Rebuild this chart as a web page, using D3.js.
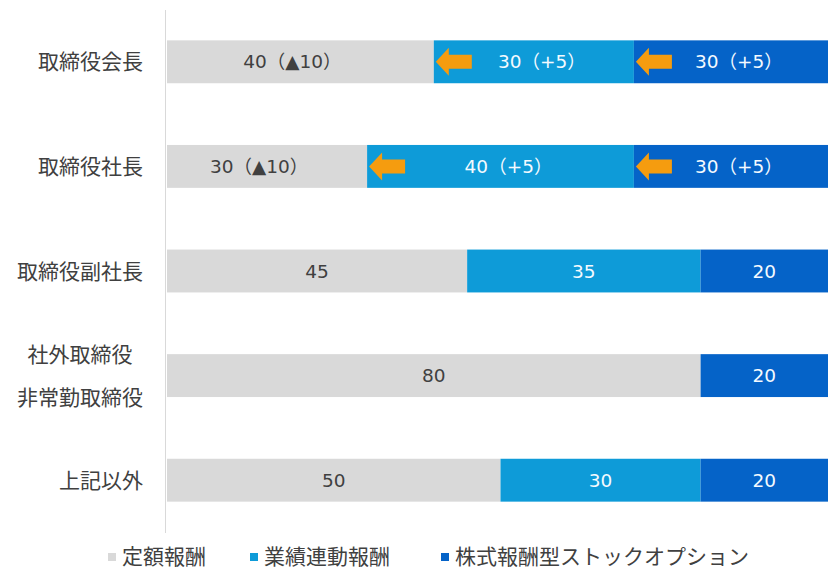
<!DOCTYPE html>
<html>
<head>
<meta charset="utf-8">
<script src="https://cdn.jsdelivr.net/npm/d3@7"></script>
<style>
  body { margin: 0; background: #fff; }
  svg { display: block; font-family: "Noto Sans CJK JP", sans-serif; }
</style>
</head>
<body>
<svg id="chart" width="828" height="569"></svg>
<script>
// data
var categories = [["取締役会長"], ["取締役社長"], ["取締役副社長"], ["社外取締役", "非常勤取締役"], ["上記以外"]];
var fixedPay   = [40, 30, 45, 80, 50];   // 定額報酬
var perfPay    = [30, 40, 35, 0, 30];    // 業績連動報酬
var stockPay   = [30, 30, 20, 20, 20];   // 株式報酬型ストックオプション
var fixedDiff  = [-10, -10, null, null, null];
var perfDiff   = [5, 5, null, null, null];
var stockDiff  = [5, 5, null, null, null];
var seriesNames = ["定額報酬", "業績連動報酬", "株式報酬型ストックオプション"];

var colors = ["#d9d9d9", "#0e9bd8", "#0563c8"];
var textColors = ["#404040", "#f4faff", "#f4faff"];

var svg = d3.select("#chart");

var x = d3.scaleLinear().domain([0, 100]).range([167, 834]);
var y = d3.scaleBand().domain(d3.range(categories.length))
    .range([9.5, 532.5]).paddingInner(0.59).paddingOuter(0.295);

function diffText(d) {
  if (d == null) return "";
  return d < 0 ? "（▲" + (-d) + "）" : "（+" + d + "）";
}

// stack rows
var rows = categories.map(function(c, i) {
  var vals = [fixedPay[i], perfPay[i], stockPay[i]];
  var diffs = [fixedDiff[i], perfDiff[i], stockDiff[i]];
  var x0 = 0;
  return vals.map(function(v, k) {
    var seg = {row: i, k: k, v: v, x0: x0, x1: x0 + v, diff: diffs[k]};
    x0 += v;
    return seg;
  }).filter(function(s) { return s.v > 0; });
});
var segs = d3.merge(rows);

svg.append("g").selectAll("rect").data(segs).join("rect")
  .attr("x", d => x(d.x0))
  .attr("y", d => y(d.row))
  .attr("width", d => x(d.x1) - x(d.x0))
  .attr("height", y.bandwidth())
  .attr("fill", d => colors[d.k]);

// axis line
svg.append("line")
  .attr("x1", 165.5).attr("x2", 165.5)
  .attr("y1", 10).attr("y2", 533)
  .attr("stroke", "#d9d9d9").attr("stroke-width", 1);

// arrows where a share went up
var arrowSegs = segs.filter(d => d.diff != null && d.diff > 0);
svg.append("g").selectAll("path").data(arrowSegs).join("path")
  .attr("d", function(d) {
    var tx = x(d.x0) + 2, cy = y(d.row) + y.bandwidth() / 2;
    return "M" + tx + "," + cy +
      "L" + (tx + 13) + "," + (cy - 14) +
      "L" + (tx + 13) + "," + (cy - 7) +
      "L" + (tx + 36) + "," + (cy - 7) +
      "L" + (tx + 36) + "," + (cy + 7) +
      "L" + (tx + 13) + "," + (cy + 7) +
      "L" + (tx + 13) + "," + (cy + 14) + "Z";
  })
  .attr("fill", "#f59c0f");

// segment labels
svg.append("g").selectAll("text").data(segs).join("text")
  .attr("x", function(d) {
    var cx = (x(d.x0) + Math.min(x(d.x1), 828)) / 2;
    if (d.diff != null && d.diff > 0) cx += 8;
    if (d.diff != null && d.diff < 0) cx -= 8;
    return cx;
  })
  .attr("y", d => y(d.row) + y.bandwidth() / 2)
  .attr("dy", "0.36em")
  .attr("text-anchor", "middle")
  .attr("font-family", "'DejaVu Sans', 'Noto Sans CJK JP', sans-serif")
  .attr("font-size", 18.5)
  .attr("fill", d => textColors[d.k])
  .text(d => d.v + diffText(d.diff));

// category labels
var catG = svg.append("g");
categories.forEach(function(lines, i) {
  var cy = y(i) + y.bandwidth() / 2;
  var t = catG.append("text")
    .attr("font-size", 21)
    .attr("fill", "#404040");
  if (lines.length === 1) {
    t.attr("x", 143).attr("y", cy).attr("dy", "0.36em")
      .attr("text-anchor", "end").text(lines[0]);
  } else {
    t.attr("text-anchor", "middle");
    var w = 0;
    lines.forEach(function(l, j) {
      var ts = t.append("tspan").attr("x", 0)
        .attr("y", cy + (j - (lines.length - 1) / 2) * 43)
        .attr("dy", "0.36em").text(l);
      w = Math.max(w, ts.node().getComputedTextLength());
    });
    t.selectAll("tspan").attr("x", 143 - w / 2);
  }
});

// legend
var legendX = [108, 250, 441];
var lg = svg.append("g").selectAll("g").data(seriesNames).join("g")
  .attr("transform", (d, i) => "translate(" + legendX[i] + ",556)");
lg.append("rect").attr("x", 0).attr("y", -3).attr("width", 8).attr("height", 8)
  .attr("fill", (d, i) => colors[i]);
lg.append("text").attr("x", 14).attr("dy", "0.36em")
  .attr("font-size", 21).attr("fill", "#404040")
  .text(d => d);
</script>
</body>
</html>
